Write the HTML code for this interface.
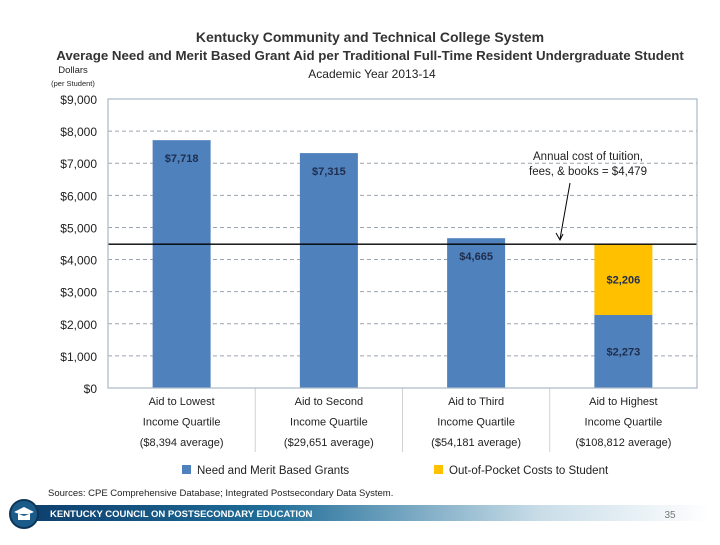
<!DOCTYPE html>
<html><head><meta charset="utf-8"><style>
body{margin:0;background:#fff;width:720px;height:540px;overflow:hidden;font-family:"Liberation Sans",sans-serif}
</style></head><body>
<svg id="c" width="720" height="540" xmlns="http://www.w3.org/2000/svg" font-family="Liberation Sans, sans-serif">
<defs><linearGradient id="fg" x1="0" x2="1"><stop offset="0" stop-color="#0d3f6e"/><stop offset="0.35" stop-color="#1f6d98"/><stop offset="0.75" stop-color="#c9dde8"/><stop offset="1" stop-color="#fff"/></linearGradient></defs>
<text x="370" y="42" text-anchor="middle" font-size="14" font-weight="bold" fill="#333">Kentucky Community and Technical College System</text>
<text x="370" y="60" text-anchor="middle" font-size="13.3" font-weight="bold" fill="#333">Average Need and Merit Based Grant Aid per Traditional Full-Time Resident Undergraduate Student</text>
<text x="372" y="78" text-anchor="middle" font-size="12" fill="#222">Academic Year 2013-14</text>
<text x="73" y="73" text-anchor="middle" font-size="9.5" fill="#222">Dollars</text>
<text x="73" y="86" text-anchor="middle" font-size="7.5" fill="#222">(per Student)</text>
<g id="grid"></g><g id="bars"></g><g id="cats"></g>
<rect x="108" y="99" width="589" height="289" fill="none" stroke="#a9b7c6" stroke-width="1.2"/>
<text x="588" y="160" text-anchor="middle" font-size="11.5" fill="#222">Annual cost of tuition,</text>
<text x="588" y="175" text-anchor="middle" font-size="11.5" fill="#222">fees, &amp; books = $4,479</text>
<g><line x1="570" y1="183" x2="560" y2="239" stroke="#000" stroke-width="1"/><path d="M556,233 L560,240 L563,234" fill="none" stroke="#000" stroke-width="1"/></g>
<g>
<rect x="182" y="465" width="9" height="9" fill="#4f81bd"/>
<text x="197" y="474" font-size="11.5" fill="#222">Need and Merit Based Grants</text>
<rect x="434" y="465" width="9" height="9" fill="#ffc000"/>
<text x="449" y="474" font-size="11.5" fill="#222">Out-of-Pocket Costs to Student</text>
</g>
<text x="48" y="496" font-size="9.5" fill="#222">Sources:  CPE Comprehensive Database; Integrated Postsecondary Data System.</text>
<rect x="30" y="505" width="680" height="16" fill="url(#fg)"/>
<circle cx="24" cy="514" r="14" fill="#1a5b8a" stroke="#0d3558" stroke-width="2"/>
<path d="M14,512 L24,507 L34,512 L24,516 Z M18,514 L18,520 L30,520 L30,514" fill="#fff"/>
<text x="50" y="517" font-size="9.5" font-weight="bold" fill="#fff">KENTUCKY COUNCIL ON POSTSECONDARY EDUCATION</text>
<text x="670" y="518" text-anchor="middle" font-size="10" fill="#777">35</text>
</svg>
<script>
const categories1=["Aid to Lowest","Aid to Second","Aid to Third","Aid to Highest"];
const categories2=["Income Quartile","Income Quartile","Income Quartile","Income Quartile"];
const categories3=["($8,394 average)","($29,651 average)","($54,181 average)","($108,812 average)"];
const grants=[7718,7315,4665,2273];
const outOfPocket=[0,0,0,2206];
const costLine=4479;
const yTicks=[0,1000,2000,3000,4000,5000,6000,7000,8000,9000];
const NS="http://www.w3.org/2000/svg";
const X0=108,X1=697,Y0=388,Y1=99,YMAX=9000;
const y=v=>Y0-(v/YMAX)*(Y0-Y1);
const band=(X1-X0)/categories1.length;
const xc=i=>X0+band*(i+0.5);
const BW=58;
function mk(t,a,p){const e=document.createElementNS(NS,t);for(const k in a)e.setAttribute(k,a[k]);p.appendChild(e);return e;}
const fmt=v=>"$"+v.toLocaleString("en-US");
const grid=document.getElementById("grid"),bars=document.getElementById("bars"),cats=document.getElementById("cats");
yTicks.forEach(v=>{
  if(v>0&&v<YMAX){const l=mk("line",{x1:X0,x2:X1,y1:y(v),y2:y(v),stroke:"#9aa4ae","stroke-dasharray":"4,3","stroke-width":1},grid);
  
  }
  const t=mk("text",{x:97,y:y(v)+5,"text-anchor":"end","font-size":12,fill:"#222"},grid);t.textContent=fmt(v);
  
  
});
grants.forEach((v,i)=>{
  const r=mk("rect",{x:xc(i)-BW/2,y:y(v),width:BW,height:Y0-y(v),fill:"#4f81bd"},bars);
  
  
  const t=mk("text",{x:xc(i),y:i===3?y(v)+(Y0-y(v))/2+4:y(v)+22,"text-anchor":"middle","font-size":11,"font-weight":"bold",fill:"#1f2d4d"},bars);
  t.textContent=fmt(v);
  
  
  if(outOfPocket[i]>0){
    const top=v+outOfPocket[i];
    const o=mk("rect",{x:xc(i)-BW/2,y:y(top),width:BW,height:y(v)-y(top),fill:"#ffc000"},bars);
    
    
    const ot=mk("text",{x:xc(i),y:(y(top)+y(v))/2+4,"text-anchor":"middle","font-size":11,"font-weight":"bold",fill:"#1f2d4d"},bars);
    ot.textContent=fmt(outOfPocket[i]);
    
    
  }
});
const cl=mk("line",{x1:X0,x2:X1,y1:y(costLine),y2:y(costLine),stroke:"#000","stroke-width":1.3},bars);


categories1.forEach((c,i)=>{
  [categories1[i],categories2[i],categories3[i]].forEach((s,j)=>{
    const t=mk("text",{x:xc(i),y:405+j*20.5,"text-anchor":"middle","font-size":11,fill:"#222"},cats);t.textContent=s;
    
    
  });
  if(i>0){const l=mk("line",{x1:X0+band*i,x2:X0+band*i,y1:Y0,y2:452,stroke:"#d0d0d0"},cats);
  
  }
});
</script>
</body></html>
